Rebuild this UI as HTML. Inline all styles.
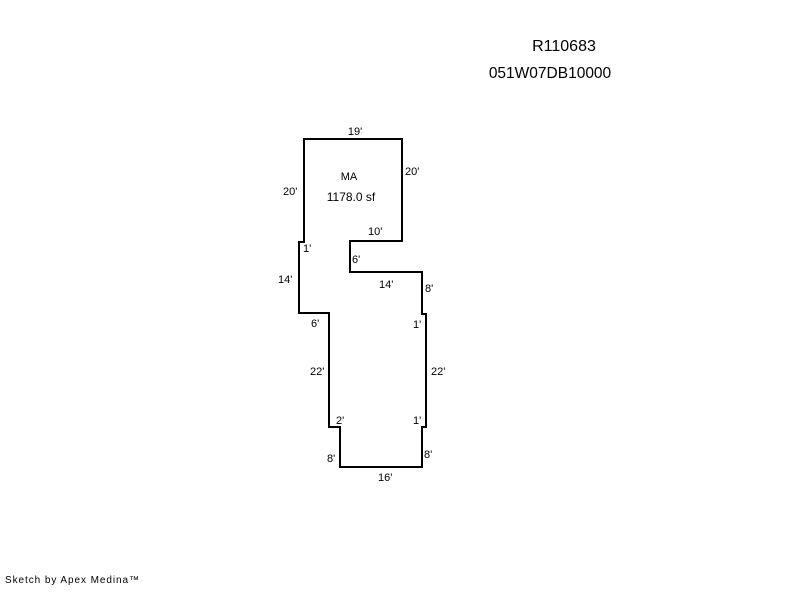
<!DOCTYPE html>
<html><head><style>
body{margin:0;background:#fff;}
svg text{font-family:"Liberation Sans",sans-serif;fill:#000;}
</style></head><body>
<svg width="800" height="587" xmlns="http://www.w3.org/2000/svg">
<rect width="800" height="587" fill="#fff"/>
<polygon points="304,139 402,139 402,241 350,241 350,272 422,272 422,314 426,314 426,427 422,427 422,467 340,467 340,427 329,427 329,313 299,313 299,242 304,242" fill="none" stroke="#000" stroke-width="2"/>
<text x="564" y="51" font-size="16" text-anchor="middle">R110683</text>
<text x="550" y="78" font-size="15.5" text-anchor="middle">051W07DB10000</text>
<g font-size="11">
<text x="355" y="135" text-anchor="middle">19'</text>
<text x="349" y="180" text-anchor="middle">MA</text>
<text x="351" y="201" text-anchor="middle" font-size="12">1178.0 sf</text>
<text x="283" y="195">20'</text>
<text x="405" y="175">20'</text>
<text x="368" y="235">10'</text>
<text x="303" y="252">1'</text>
<text x="352" y="263">6'</text>
<text x="278" y="283">14'</text>
<text x="379" y="288">14'</text>
<text x="425" y="292">8'</text>
<text x="311" y="327">6'</text>
<text x="413" y="328">1'</text>
<text x="310" y="375">22'</text>
<text x="431" y="375">22'</text>
<text x="336" y="424">2'</text>
<text x="413" y="424">1'</text>
<text x="327" y="462">8'</text>
<text x="424" y="458">8'</text>
<text x="378" y="481">16'</text>
</g>
<text x="5" y="583" font-size="10" textLength="134">Sketch by Apex Medina™</text>
</svg>
</body></html>
